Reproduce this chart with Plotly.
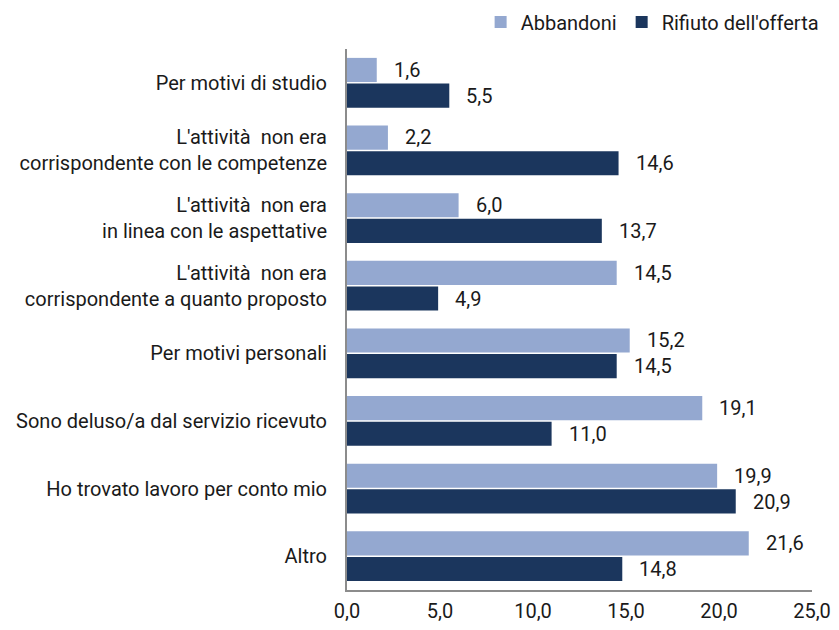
import plotly.graph_objects as go

categories = [
    "Per motivi di studio",
    "L'attività\u00a0 non era<br>corrispondente con le competenze",
    "L'attività\u00a0 non era<br>in linea con le aspettative",
    "L'attività\u00a0 non era<br>corrispondente a quanto proposto",
    "Per motivi personali",
    "Sono deluso/a dal servizio ricevuto",
    "Ho trovato lavoro per conto mio",
    "Altro",
]
abbandoni = [1.6, 2.2, 6.0, 14.5, 15.2, 19.1, 19.9, 21.6]
rifiuto = [5.5, 14.6, 13.7, 4.9, 14.5, 11.0, 20.9, 14.8]
series_names = ["Abbandoni", "Rifiuto dell'offerta"]
colors = ["#94A8D0", "#1B365D"]
x_ticks = [0, 5, 10, 15, 20, 25]

FONT = "Roboto"
FS = 20
TXT = "#1a1a1a"

fig = go.Figure()
for name, vals, col in zip(series_names, [abbandoni, rifiuto], colors):
    fig.add_trace(go.Bar(
        y=categories, x=vals, name=name, orientation="h",
        marker=dict(color=col, line=dict(width=0)),
    ))

fig.update_layout(
    barmode="group",
    bargap=0.24,
    bargroupgap=0.06,
    width=823, height=622,
    margin=dict(l=339, r=19, t=41, b=40, autoexpand=False),
    plot_bgcolor="white", paper_bgcolor="white",
    separators=",.",
    font=dict(family=FONT, size=FS, color=TXT),
    legend=dict(orientation="h", x=1.025, xanchor="right", y=1.05, yanchor="middle",
                font=dict(size=FS), itemwidth=30, traceorder="normal"),
    showlegend=True,
)
fig.update_xaxes(range=[0, 25], tickvals=x_ticks, tickformat=".1f",
                 showgrid=False, zeroline=False, showline=True,
                 linecolor="#8c8c8c", linewidth=2, ticks="", ticklabelstandoff=2)
fig.update_yaxes(autorange="reversed", showgrid=False, showline=True,
                 linecolor="#8c8c8c", linewidth=2, ticks="", ticklabelstandoff=14)

for trace_idx, vals in enumerate([abbandoni, rifiuto]):
    for cat, v in zip(categories, vals):
        fig.add_annotation(
            x=v, y=cat, text=f"{v:.1f}".replace(".", ","), showarrow=False,
            xanchor="left", xshift=15, yshift=(13 if trace_idx == 0 else -13),
            font=dict(family=FONT, size=FS, color=TXT),
        )

fig.write_html("out.html")
